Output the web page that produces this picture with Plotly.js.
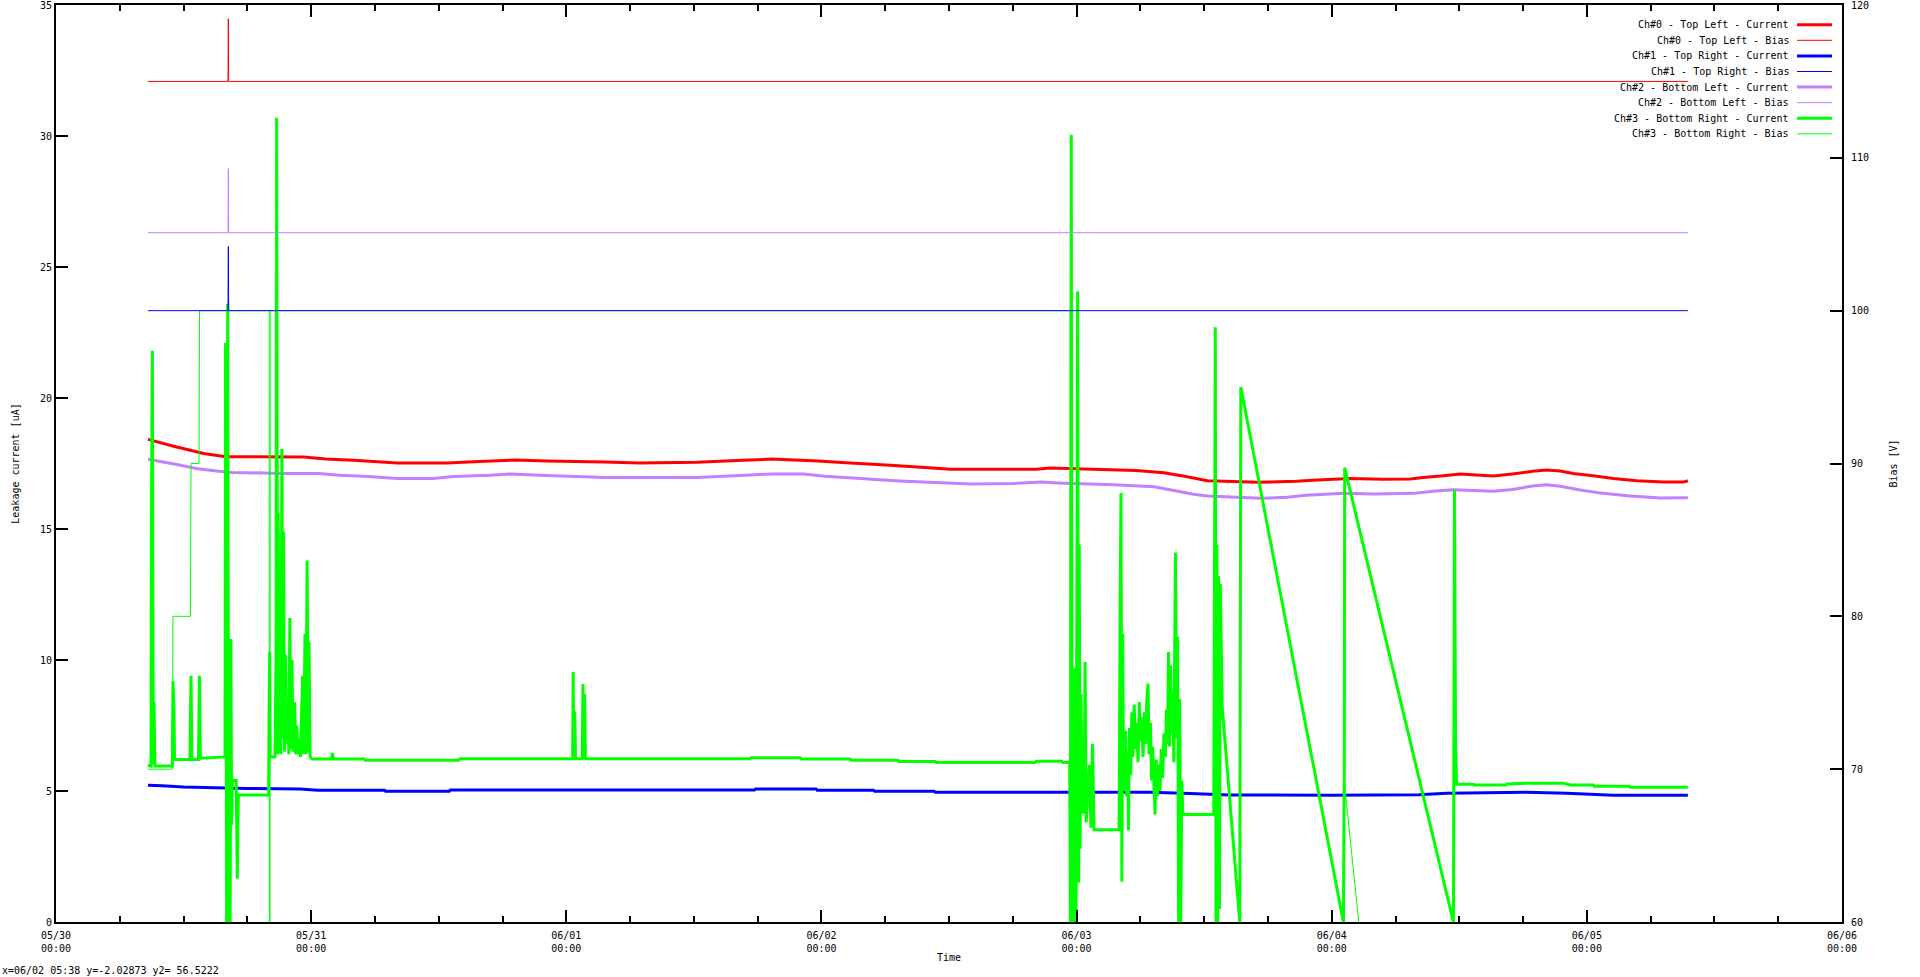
<!DOCTYPE html>
<html><head><meta charset="utf-8">
<script src="https://cdn.plot.ly/plotly-3.0.1.min.js"></script>
<style>html,body{margin:0;padding:0;background:#fff;overflow:hidden}#chart{width:1920px;height:977px}</style>
</head><body><div id="chart"></div>
<script>
// time values are hours after 05/30 00:00
const xTickLabels = ['05/30<br>00:00','05/31<br>00:00','06/01<br>00:00','06/02<br>00:00','06/03<br>00:00','06/04<br>00:00','06/05<br>00:00','06/06<br>00:00'];
const seriesNames = ['Ch#0 - Top Left - Current','Ch#0 - Top Left - Bias','Ch#1 - Top Right - Current','Ch#1 - Top Right - Bias','Ch#2 - Bottom Left - Current','Ch#2 - Bottom Left - Bias','Ch#3 - Bottom Right - Current','Ch#3 - Bottom Right - Bias'];
const seriesColors = ['#ff0000','#ff0000','#0000ff','#0000ff','#c080ff','#c080ff','#00ff00','#00ff00'];

const ch0_t = [8.65,11.26,13.9,15.96,23.3,25.4,28.0,32.1,36.8,39.8,43.2,46.2,51.6,54.9,60.3,64.6,67.3,71.7,74.7,78.1,82.1,84.1,92.2,93.5,97.6,101.6,104.2,106.3,108.3,113.0,116.7,118.2,121.7,124.8,127.4,128.6,130.5,132.1,133.6,135.2,137.0,138.9,140.2,141.5,142.7,144.6,146.5,148.7,151.2,153.1,153.5];
const ch0_i = [18.42,18.14,17.88,17.76,17.75,17.67,17.62,17.52,17.52,17.58,17.63,17.60,17.56,17.52,17.55,17.62,17.67,17.60,17.52,17.44,17.34,17.28,17.28,17.33,17.28,17.23,17.15,17.00,16.84,16.78,16.82,16.86,16.93,16.90,16.91,16.97,17.03,17.10,17.06,17.02,17.10,17.20,17.25,17.21,17.12,17.03,16.93,16.84,16.79,16.79,16.84];

const ch1_t = [8.65,10,12,15,18,23.0,24.6,30.9,31.0,37.0,37.1,65.7,65.8,71.5,71.6,76.9,77.0,82.6,82.7,96.0,103.0,106.7,110.4,119.8,128.2,130.8,138.3,142.1,146.5,153.5];
const ch1_i = [5.22,5.20,5.15,5.12,5.10,5.08,5.03,5.03,4.99,4.99,5.04,5.04,5.08,5.08,5.03,5.03,4.99,4.99,4.95,4.95,4.95,4.90,4.85,4.84,4.86,4.91,4.95,4.91,4.84,4.84];

const ch2_t = [8.65,11.26,13.3,15.3,16.6,21.4,24.7,26.7,29.4,32.1,35.5,37.4,40.8,42.8,45.5,48.2,51.6,60.3,63.9,67.3,70.3,72.3,75.0,77.4,79.4,82.1,86.1,90.1,92.8,94.2,99.5,103.3,104.9,107.0,108.3,111.0,113.3,115.8,117.6,121.1,123.9,127.7,129.5,131.4,133.3,135.2,137.0,138.9,140.2,141.5,143.4,145.3,147.8,150.9,153.5];
const ch2_i = [17.66,17.47,17.30,17.20,17.16,17.12,17.12,17.05,17.00,16.93,16.93,17.00,17.05,17.10,17.05,17.01,16.97,16.97,17.03,17.10,17.10,17.01,16.95,16.88,16.83,16.78,16.72,16.74,16.79,16.76,16.69,16.61,16.49,16.33,16.26,16.21,16.17,16.21,16.29,16.36,16.34,16.36,16.44,16.50,16.47,16.44,16.51,16.64,16.69,16.63,16.49,16.37,16.27,16.18,16.19];

const ch3_t = [8.65,8.94,8.98,9.07,9.15,9.22,9.30,10.95,11.0,11.1,11.15,12.6,12.7,12.78,13.4,13.5,13.58,15.9,15.95,16.05,16.15,16.25,16.32,16.38,16.45,16.52,16.58,16.95,17.05,17.15,20.0,20.05,20.1,20.15,20.6,20.7,20.75,20.85,20.9,21.0,21.05,21.15,21.25,21.32,21.4,21.5,21.6,21.7,21.8,21.9,22.0,22.1,22.2,22.3,22.45,22.55,22.65,22.75,22.9,23.0,23.2,23.3,23.42,23.5,23.62,23.72,23.8,23.9,24.1,25.9,26.0,26.1,29.0,29.1,37.9,38.0,48.6,48.65,48.7,48.8,48.87,49.5,49.57,49.64,49.72,49.8,65.3,65.4,70.0,70.1,74.7,74.8,79.2,79.3,82.7,82.8,92.1,92.2,94.6,94.7,95.35,95.42,95.5,95.58,95.7,95.85,95.95,96.1,96.2,96.25,96.33,96.42,96.5,96.7,96.8,96.9,97.0,97.2,97.35,97.5,97.65,100.0,100.1,100.18,100.26,100.34,100.42,100.6,100.7,100.8,100.88,100.97,101.1,101.2,101.3,101.42,101.55,101.65,101.78,101.9,102.0,102.12,102.25,102.38,102.5,102.6,102.72,102.82,102.95,103.05,103.15,103.25,103.38,103.5,103.6,103.72,103.85,103.97,104.1,104.22,104.35,104.45,104.55,104.65,104.75,104.85,104.95,105.05,105.15,105.3,105.4,105.5,105.6,105.7,105.8,105.9,106.0,108.9,109.05,109.12,109.2,109.28,109.36,109.44,109.52,109.7,111.35,111.45,121.1,121.15,121.18,121.22,131.45,131.55,131.65,131.75,133.3,133.4,136.4,136.5,138.6,141.8,142.4,144.6,144.7,148.0,148.1,153.5];
const ch3_i = [5.97,5.95,15.5,21.8,6.0,8.4,5.95,5.95,9.2,8.1,6.2,6.2,9.4,6.2,6.2,9.4,6.25,6.3,22.1,0,23.6,0,7.7,0,10.8,3.7,5.4,5.4,1.65,4.85,4.85,8.4,10.3,6.3,6.3,10.3,30.7,6.4,15.6,6.5,13.5,6.4,18.05,7.0,14.9,6.5,10.2,6.8,8.5,6.4,11.6,6.6,10.0,6.5,8.4,6.4,7.5,6.4,7.0,6.3,9.4,6.4,11.0,6.4,13.8,6.5,10.7,6.3,6.22,6.22,6.45,6.22,6.22,6.17,6.17,6.23,6.23,9.54,6.23,8.03,6.23,6.23,9.08,6.23,8.7,6.23,6.23,6.27,6.27,6.22,6.22,6.17,6.17,6.13,6.13,6.09,6.09,6.14,6.14,6.09,6.1,0,30.05,0,0,9.7,0,24.07,1.5,14.4,2.8,8.7,4.2,4.2,9.92,3.8,4.4,6.0,3.6,6.8,3.52,3.52,12.3,16.37,1.54,11.0,5.0,7.3,4.8,6.5,3.5,7.4,5.6,8.0,6.3,8.3,6.6,7.6,6.1,8.4,6.9,7.8,6.3,8.0,6.8,8.4,9.1,6.4,7.6,5.4,6.7,5.6,4.1,6.2,4.8,6.0,5.0,6.6,5.5,7.2,6.3,8.1,6.8,10.3,6.7,9.8,7.2,8.8,6.1,14.1,7.0,10.9,0,8.5,0,5.4,4.1,4.1,22.7,0,14.4,0,13.2,0.5,12.9,8.2,0,20.42,0,3.8,5.3,17.34,0,16.5,6.69,5.26,5.26,5.23,5.23,5.27,5.30,5.30,5.23,5.23,5.18,5.18,5.14,5.14];

const b0_t = [8.65,16.18,16.21,16.24,153.5];
const b0_v = [115,115,119.1,115,115];
const b1_t = [8.65,16.18,16.21,16.24,153.5];
const b1_v = [100,100,104.2,100,100];
const b2_t = [8.65,16.18,16.21,16.24,153.5];
const b2_v = [105.1,105.1,109.3,105.1,105.1];
const b3_t = [8.65,10.95,11.0,12.65,12.7,13.45,13.5,20.05,20.1,20.15,95.4,95.45,121.15,121.2,131.45,153.5];
const b3_v = [70.0,70.0,80.0,80.0,90.0,90.0,100.0,100.0,0,100.0,100.0,0,0,69.06,0,0];

const statusText = 'x=06/02 05:38 y=-2.02873 y2= 56.5222';

function h2d(h){
  const ms = Date.UTC(2011,4,30) + Math.round(h*3600000);
  return new Date(ms).toISOString().replace('T',' ').slice(0,19);
}
const FONT = 'DejaVu Sans Mono, monospace';

// [times, values, axis, width, series index]; Ch#3 bias drawn before Ch#1 bias so the blue line stays on top
const series = [
  [ch0_t,ch0_i,'y',3,0],[b0_t,b0_v,'y2',1,1],
  [ch1_t,ch1_i,'y',3,2],[b3_t,b3_v,'y2',1,7],[b1_t,b1_v,'y2',1,3],
  [ch2_t,ch2_i,'y',3,4],[b2_t,b2_v,'y2',1,5],
  [ch3_t,ch3_i,'y',3,6]
];
const traces = series.map(s=>({
  type:'scatter', mode:'lines', name:seriesNames[s[4]],
  x:s[0].map(h2d), y:s[1], yaxis:s[2],
  line:{color:seriesColors[s[4]], width:s[3], simplify:false},
  hoverinfo:'skip'
}));

const L0 = 56, R0 = 1842, T0 = 5, B0 = 922;
const px = x => (x-L0)/(R0-L0);
const py = y => (B0-y)/(B0-T0);
const annotations = [];
const shapes = [];
seriesNames.forEach((n,k)=>{
  const yy = 24.7 + 15.6*k;
  annotations.push({xref:'paper',yref:'paper',x:px(1791),y:py(yy),xanchor:'right',yanchor:'middle',
    text:n,showarrow:false,font:{family:FONT,size:10,color:'#000'}});
  shapes.push({type:'line',xref:'paper',yref:'paper',x0:px(1797),x1:px(1832),y0:py(yy),y1:py(yy),
    line:{color:seriesColors[k],width:(k%2===0)?3:1}});
});
annotations.push({xref:'paper',yref:'paper',x:px(0),y:py(970),xanchor:'left',yanchor:'middle',
  text:statusText,showarrow:false,font:{family:FONT,size:10,color:'#000'}});

const dayVals = xTickLabels.map((_,k)=>h2d(24*k));
const layout = {
  width:1920, height:977,
  margin:{l:56,r:78,t:5,b:55,pad:0},
  paper_bgcolor:'#fff', plot_bgcolor:'#fff',
  showlegend:false, hovermode:false,
  font:{family:FONT,size:10,color:'#000'},
  xaxis:{type:'date', range:[h2d(0),h2d(168)], tickmode:'array', tickvals:dayVals, ticktext:xTickLabels,
    ticks:'inside', ticklen:12, tickwidth:2, tickcolor:'#000', showline:true, linewidth:2, linecolor:'#000',
    mirror:'ticks', showgrid:false, zeroline:false, automargin:false, ticklabeloverflow:'allow', ticklabelstandoff:3,
    minor:{tickmode:'linear', tick0:h2d(0), dtick:21600000, ticks:'inside', ticklen:6, tickwidth:2, tickcolor:'#000', showgrid:false},
    tickfont:{family:FONT,size:10,color:'#000'},
    title:{text:'Time', standoff:1, font:{family:FONT,size:10,color:'#000'}}},
  yaxis:{range:[0,35], tick0:0, dtick:5, ticks:'inside', ticklen:12, tickwidth:2, tickcolor:'#000',
    showline:true, linewidth:2, linecolor:'#000', mirror:false, showgrid:false, zeroline:false, automargin:false,
    ticklabeloverflow:'allow',
    tickfont:{family:FONT,size:10,color:'#000'},
    title:{text:'Leakage current [uA]', standoff:18, font:{family:FONT,size:10,color:'#000'}}},
  yaxis2:{overlaying:'y', side:'right', range:[60,120], tick0:60, dtick:10, ticks:'inside', ticklen:12, tickwidth:2, tickcolor:'#000',
    showline:true, linewidth:2, linecolor:'#000', showgrid:false, zeroline:false, automargin:false,
    ticklabeloverflow:'allow', ticklabelstandoff:5,
    tickfont:{family:FONT,size:10,color:'#000'},
    title:{text:'Bias [V]', standoff:22, font:{family:FONT,size:10,color:'#000'}}},
  annotations:annotations, shapes:shapes
};
Plotly.newPlot('chart', traces, layout, {staticPlot:true, displayModeBar:false});
</script></body></html>
